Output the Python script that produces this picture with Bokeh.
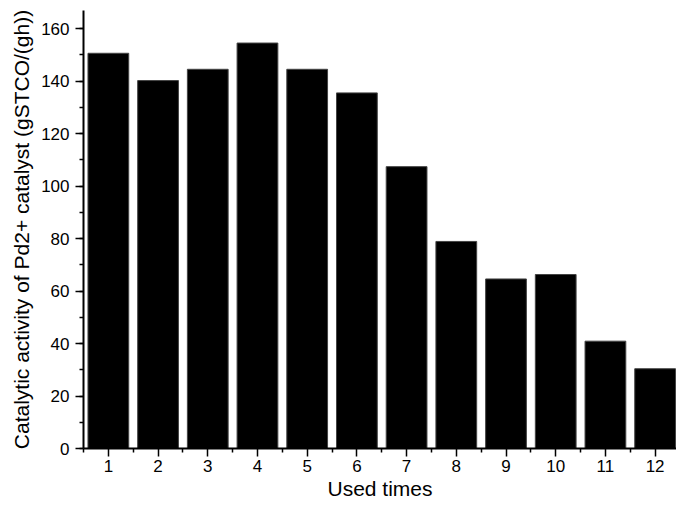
from bokeh.plotting import figure
from bokeh.models import Range1d, FixedTicker, SingleIntervalTicker, ColumnDataSource
from bokeh.embed import file_html
from bokeh.resources import INLINE

# Catalytic activity of the Pd2+ catalyst over repeated use
used_times = [1, 2, 3, 4, 5, 6, 7, 8, 9, 10, 11, 12]
activity = [150.6, 140.2, 144.5, 154.5, 144.5, 135.5, 107.4, 78.9, 64.6, 66.3, 40.9, 30.4]
tick_labels = [str(t) for t in used_times]

FONT = "Liberation Sans"

source = ColumnDataSource(data=dict(x=used_times, y=activity))

p = figure(
    width=676, height=505,
    x_range=Range1d(0.5, 12.43), y_range=Range1d(0, 166.9),
    output_backend="svg", toolbar_location=None,
    min_border_left=83, min_border_right=0, min_border_top=10, min_border_bottom=57,
)
p.outline_line_color = None
p.xgrid.visible = False
p.ygrid.visible = False
p.background_fill_color = "white"
p.border_fill_color = "white"

p.vbar(x="x", top="y", width=0.82, bottom=0, source=source,
       fill_color="black", line_color="#444444", line_width=1)

# x axis: integer ticks with minor ticks between the bars
p.xaxis.ticker = FixedTicker(ticks=used_times,
                             minor_ticks=[t - 0.5 for t in used_times] + [12.5])
p.xaxis.major_label_overrides = {t: lab for t, lab in zip(used_times, tick_labels)}
p.xaxis.axis_label = "Used times"

# y axis: labelled every 20, minor every 10
p.yaxis.ticker = SingleIntervalTicker(interval=20, num_minor_ticks=2)
p.yaxis.axis_label = "Catalytic activity of Pd2+ catalyst (gSTCO/(gh))"

for ax in (p.xaxis, p.yaxis):
    ax.axis_line_width = 2
    ax.axis_line_color = "black"
    ax.major_tick_line_width = 1.5
    ax.minor_tick_line_width = 1.5
    ax.major_tick_line_color = "black"
    ax.minor_tick_line_color = "black"
    ax.major_tick_out = 8
    ax.major_tick_in = 0
    ax.minor_tick_out = 4
    ax.minor_tick_in = 0
    ax.major_label_text_font = FONT
    ax.major_label_text_font_size = "17px"
    ax.major_label_text_color = "black"
    ax.axis_label_text_font = FONT
    ax.axis_label_text_font_size = "21px"
    ax.axis_label_text_font_style = "normal"
    ax.axis_label_text_color = "black"

p.xaxis.major_label_standoff = 3
p.xaxis.axis_label_standoff = 2
p.yaxis.major_label_standoff = 6
p.yaxis.axis_label_standoff = 5

open("out.html", "w").write(file_html(p, INLINE))
